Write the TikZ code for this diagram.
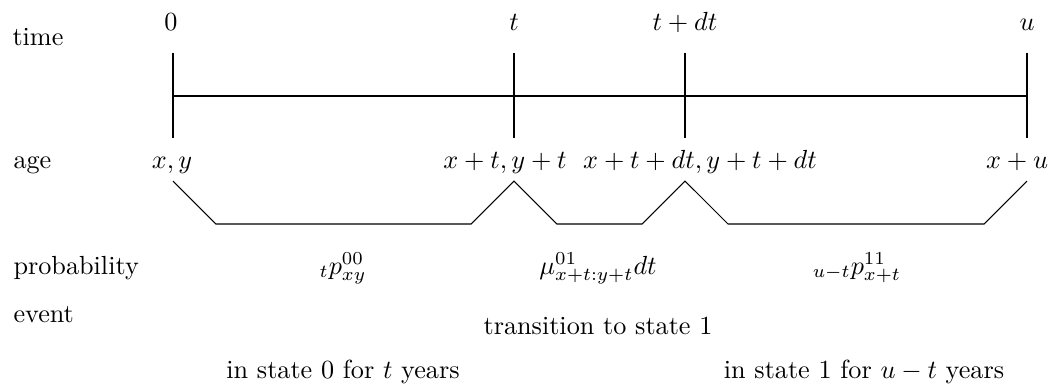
\documentclass[tikz,border=0pt]{standalone}
\begin{document}
\begin{tikzpicture}[x=0.3817pt,y=-0.3817pt,line width=0.4pt,
  rowlabel/.style={anchor=base west,inner sep=0pt},
  val/.style={anchor=base,inner sep=0pt}]
\useasboundingbox (0,0) rectangle (1057,386);
% row labels
\node[rowlabel] (time) at (12,45) {time};
\node[rowlabel] (age) at (13,168) {age};
\node[rowlabel] (prob) at (13,274) {probability};
\node[rowlabel] (event) at (13,322) {event};
% time values
\node[val] (T0) at (171,30) {$0$};
\node[val] (Tt) at (514,30) {$t$};
\node[val] (Ttdt) at (685,30) {$t+dt$};
\node[val] (Tu) at (1027,30) {$u$};
% ticks
\coordinate (a0) at (173,53);  \coordinate (b0) at (173,138);
\coordinate (a1) at (514,53);  \coordinate (b1) at (514,138);
\coordinate (a2) at (685,53);  \coordinate (b2) at (685,138);
\coordinate (a3) at (1027,53); \coordinate (b3) at (1027,138);
\draw (a0) -- (b0);
\draw (a1) -- (b1);
\draw (a2) -- (b2);
\draw (a3) -- (b3);
\coordinate (h0) at (173,96); \coordinate (h1) at (1027,96);
\draw (h0) -- (h1);
% ages
\node[val] (A0) at (172,168) {$x,y$};
\node[val] (A1) at (505,168) {$x+t,y+t$};
\node[val] (A2) at (700,168) {$x+t+dt,y+t+dt$};
\node[val] (A3) at (1017,168) {$x+u$};
% zigzag
\coordinate (z0) at (173,181);
\coordinate (z1) at (216,224);
\coordinate (z2) at (471,224);
\coordinate (z3) at (514,181);
\coordinate (z4) at (557,224);
\coordinate (z5) at (642,224);
\coordinate (z6) at (685,181);
\coordinate (z7) at (728,224);
\coordinate (z8) at (984,224);
\coordinate (z9) at (1027,181);
\draw (z0) -- (z1) -- (z2) -- (z3) -- (z4) -- (z5) -- (z6) -- (z7) -- (z8) -- (z9);
% probabilities
\node[val] (P0) at (343,274) {${}_{t}p^{00}_{xy}$};
\node[val] (P1) at (598,274) {$\mu^{01}_{x+t:y+t}dt$};
\node[val] (P2) at (857,274) {${}_{u-t}p^{11}_{x+t}$};
% events
\node[val] (E1) at (598,334) {transition to state 1};
\node[val] (E0) at (343,378) {in state 0 for $t$ years};
\node[val] (E2) at (864,378) {in state 1 for $u-t$ years};
\end{tikzpicture}
\end{document}
